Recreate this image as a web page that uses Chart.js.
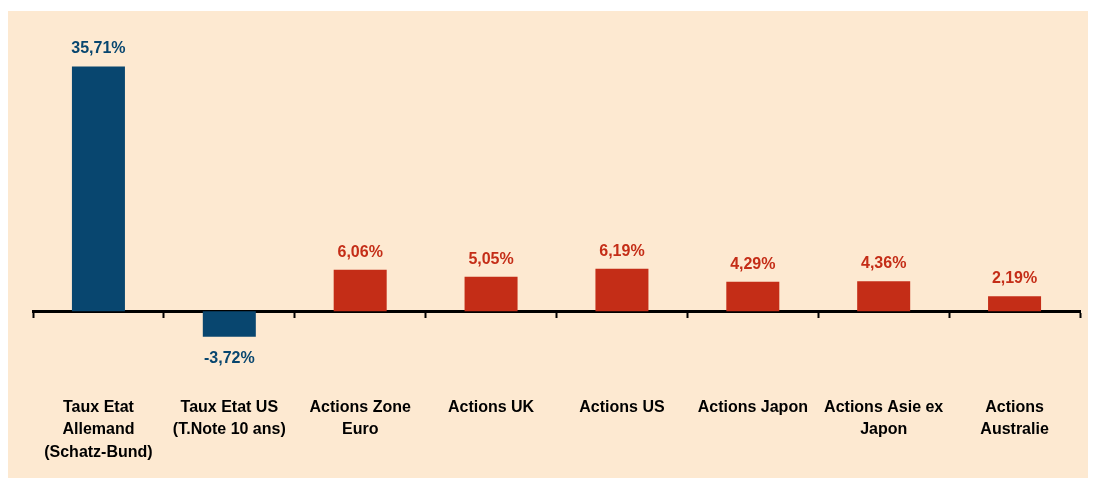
<!DOCTYPE html>
<html>
<head>
<meta charset="utf-8">
<script src="https://cdn.jsdelivr.net/npm/chart.js@4/dist/chart.umd.min.js"></script>
<style>
  body { margin: 0; background: #ffffff; }
  #panel { position: absolute; left: 8px; top: 11px; width: 1080px; height: 467px; background: #FDE9D1; }
</style>
</head>
<body>
<div id="panel"><canvas id="perf" width="1080" height="467"></canvas></div>
<script>
// catégories et performances
var categories = [
    ["Taux Etat", "Allemand", "(Schatz-Bund)"],
    ["Taux Etat US", "(T.Note 10 ans)"],
    ["Actions Zone", "Euro"],
    "Actions UK",
    "Actions US",
    "Actions Japon",
    ["Actions Asie ex", "Japon"],
    ["Actions", "Australie"]
];
var performances = [35.71, -3.72, 6.06, 5.05, 6.19, 4.29, 4.36, 2.19];
var couleurs = ["#08466F", "#08466F", "#C42D17", "#C42D17", "#C42D17", "#C42D17", "#C42D17", "#C42D17"];

function formatPct(v) {
    return v.toFixed(2).replace('.', ',') + '%';
}

// étiquettes au-dessus / au-dessous des barres
const etiquettes = {
    id: 'etiquettes',
    afterDatasetsDraw(chart) {
        const ctx = chart.ctx;
        const meta = chart.getDatasetMeta(0);
        ctx.save();
        ctx.font = 'bold 16px "Liberation Sans", Arial, sans-serif';
        ctx.textAlign = 'center';
        ctx.textBaseline = 'alphabetic';
        meta.data.forEach(function (bar, i) {
            const v = performances[i];
            ctx.fillStyle = couleurs[i];
            if (v >= 0) {
                ctx.fillText(formatPct(v), bar.x, bar.y - 13);
            } else {
                ctx.fillText(formatPct(v), bar.x, bar.y + 26);
            }
        });
        ctx.restore();
    }
};

new Chart(document.getElementById('perf'), {
    type: 'bar',
    data: {
        labels: categories,
        datasets: [{
            data: performances,
            backgroundColor: couleurs,
            borderWidth: 0,
            barPercentage: 0.405,
            categoryPercentage: 1
        }]
    },
    options: {
        responsive: false,
        devicePixelRatio: 1,
        animation: false,
        layout: { padding: { left: 25, right: 8, top: 26, bottom: 8 } },
        plugins: {
            legend: { display: false },
            tooltip: { enabled: false }
        },
        scales: {
            y: {
                display: false,
                min: -23.15,
                max: 40
            },
            x: {
                position: { y: 0 },
                afterFit: function (scale) {
                    scale.height = 0;
                    scale.paddingLeft = 0;
                    scale.paddingRight = 0;
                },
                border: { display: true, color: '#000000', width: 3 },
                grid: {
                    display: true,
                    drawOnChartArea: false,
                    drawTicks: true,
                    tickLength: 5,
                    tickWidth: 2,
                    tickColor: '#000000',
                    offset: true
                },
                ticks: {
                    autoSkip: false,
                    maxRotation: 0,
                    padding: 80,
                    color: '#000000',
                    font: { family: '"Liberation Sans", Arial, sans-serif', size: 16, weight: 'bold', lineHeight: 1.4 }
                }
            }
        }
    },
    plugins: [etiquettes]
});
</script>
</body>
</html>
